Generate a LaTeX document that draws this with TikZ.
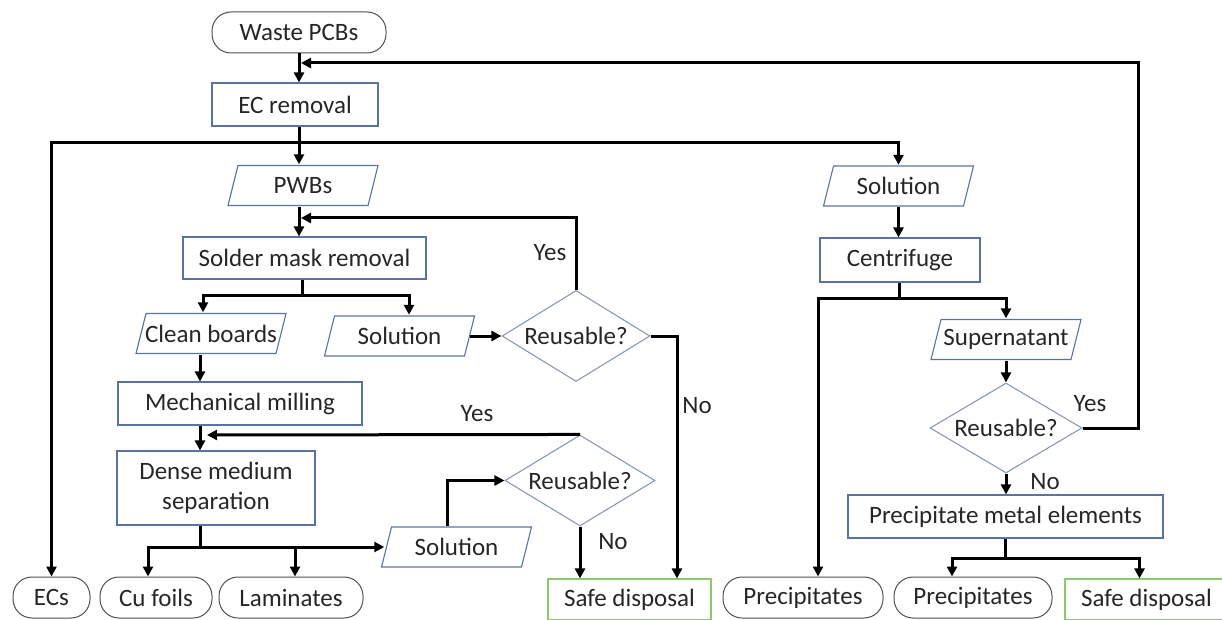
\documentclass[tikz,border=0pt]{standalone}
\usepackage{fontspec}
\setmainfont{Carlito}
\usetikzlibrary{shapes.geometric,arrows.meta,calc}
\definecolor{procc}{HTML}{5A73A0}
\definecolor{decc}{HTML}{8A98B4}
\definecolor{termc}{HTML}{505050}
\definecolor{safec}{HTML}{8CC870}
\definecolor{txt}{HTML}{262626}
\tikzset{
  base/.style={font=\fontsize{25}{30}\selectfont, text=txt, inner sep=0pt, align=center},
  proc/.style={base, rectangle, draw=procc, line width=1.1pt},
  term/.style={base, rectangle, draw=termc, line width=1pt, rounded corners=19pt, minimum height=41pt},
  para/.style={base, rectangle, minimum width=152pt, minimum height=42pt,
    path picture={\draw[draw=procc, line width=1.1pt]
      ($(path picture bounding box.north west)+(11,1)$) --
      ($(path picture bounding box.north east)+(-1,1)$) --
      ($(path picture bounding box.south east)+(-11,-1)$) --
      ($(path picture bounding box.south west)+(1,-1)$) -- cycle;}},
  dec/.style={base, diamond, aspect=1.65, draw=decc, line width=1.1pt, minimum width=150pt, minimum height=91pt},
  safe/.style={base, rectangle, draw=safec, line width=1.1pt, minimum width=163pt, minimum height=41pt},
  conn/.style={line width=3pt, draw=black},
  arr/.style={conn, -{Triangle[length=10pt,width=10pt]}},
  lab/.style={base}
}
\begin{document}
\begin{tikzpicture}[x=1pt,y=-1pt]
\useasboundingbox (0,0) rectangle (1222,620);
\clip (0,0) rectangle (1222,620);

% nodes
\node[term, minimum width=174pt] (waste) at (299,32.5) {Waste PCBs};
\node[proc, minimum width=166pt, minimum height=43pt] (ecr) at (295,104.5) {EC removal};
\node[para] (pwbs) at (303,185.5) {PWBs};
\node[proc, minimum width=243pt, minimum height=42pt] (smr) at (304.5,258) {Solder mask removal};
\node[para] (clean) at (211,333.5) {Clean boards};
\node[para] (sol1) at (399.5,336) {Solution};
\node[dec, minimum width=148pt] (dia1) at (576,336) {Reusable?};
\node[proc, minimum width=244pt, minimum height=43pt] (mm) at (240,403.5) {Mechanical milling};
\node[proc, minimum width=198pt, minimum height=74pt] (dms) at (216,488) {Dense medium\\separation};
\node[dec] (dia2) at (580,480.5) {Reusable?};
\node[para] (sol2) at (456.5,547) {Solution};
\node[term, minimum width=77pt] (ecs) at (51.5,597.5) {ECs};
\node[term, minimum width=112pt] (cu) at (156,597.5) {Cu foils};
\node[term, minimum width=144pt] (lam) at (291,597.5) {Laminates};
\node[safe] (safe1) at (629.5,599.5) {Safe disposal};
\node[para] (solR) at (898.5,186) {Solution};
\node[proc, minimum width=160pt, minimum height=44pt] (cent) at (900,260) {Centrifuge};
\node[para] (sup) at (1006,339.5) {Supernatant};
\node[dec, minimum width=152pt, minimum height=90pt] (dia3) at (1006,428) {Reusable?};
\node[proc, minimum width=315pt, minimum height=43pt] (pme) at (1005.5,516.5) {Precipitate metal elements};
\node[term, minimum width=160pt] (prec1) at (803,597.5) {Precipitates};
\node[term, minimum width=158pt] (prec2) at (973,597.5) {Precipitates};
\node[safe] (safe2) at (1146.5,599.5) {Safe disposal};

% labels
\node[lab] (y1) at (550,253) {Yes};
\node[lab] (n1) at (697,406) {No};
\node[lab] (y2) at (477,414) {Yes};
\node[lab] (n2) at (613,542) {No};
\node[lab] (y3) at (1090,404) {Yes};
\node[lab] (n3) at (1045,482) {No};

% helper coordinates
\coordinate (cA) at (299,0);
\coordinate (cL) at (200,0);
\coordinate (cN) at (677,0);
\coordinate (m1) at (301,63);
\coordinate (rt) at (1138,63);
\coordinate (s1) at (299,143);
\coordinate (m2) at (301,218);
\coordinate (s2) at (302,295);
\coordinate (m3) at (207,435);
\coordinate (s3) at (200,547);
\coordinate (s4) at (899,298);
\coordinate (s5) at (1005,558);

% connectors
\draw[arr] (waste.south -| cA) -- (ecr.north -| cA);
\draw[arr] (dia3.east) -| (rt) -- (m1);
\draw[conn] (ecr.south -| cA) -- (s1);
\draw[arr] (s1) -| (ecs.north);
\draw[arr] (s1) -- (pwbs.north -| cA);
\draw[arr] (s1) -| (solR.north);
\draw[arr] (pwbs.south -| cA) -- (smr.north -| cA);
\draw[arr] (dia1.north) |- (m2);
\draw[conn] (smr.south -| s2) -- (s2);
\draw[arr] (s2) -| ($(clean.north)+(-8,0)$);
\draw[arr] (s2) -| ($(sol1.north)+(9.5,0)$);
\draw[arr] ($(sol1.east)+(-6,0)$) -- (dia1.west);
\draw[arr] (dia1.east) -| (safe1.north -| cN);
\draw[arr] (clean.south -| cL) -- (mm.north -| cL);
\draw[arr] (mm.south -| cL) -- (dms.north -| cL);
\draw[arr] (dia2.north) -- (m3);
\draw[conn] (dms.south -| cL) -- (s3);
\draw[arr] (s3) -| ($(cu.north)+(-8,0)$);
\draw[arr] (s3) -| ($(lam.north)+(4,0)$);
\draw[arr] (s3) -- ($(sol2.west)+(4,0)$);
\draw[arr] ($(sol2.north)+(-9,0)$) |- (dia2.west);
\draw[arr] (dia2.south) -- (dia2.south |- safe1.north);
\draw[arr] (solR.south) -- (solR.south |- cent.north);
\draw[conn] (cent.south -| s4) -- (s4);
\draw[arr] (s4) -| ($(prec1.north)+(15,0)$);
\draw[arr] (s4) -| (sup.north);
\draw[arr] (sup.south) -- (dia3.north);
\draw[arr] (dia3.south) -- (dia3.south |- pme.north);
\draw[conn] (pme.south -| s5) -- (s5);
\draw[arr] (s5) -| ($(prec2.north)+(-21,0)$);
\draw[arr] (s5) -| ($(safe2.north)+(-7,0)$);
\end{tikzpicture}
\end{document}
